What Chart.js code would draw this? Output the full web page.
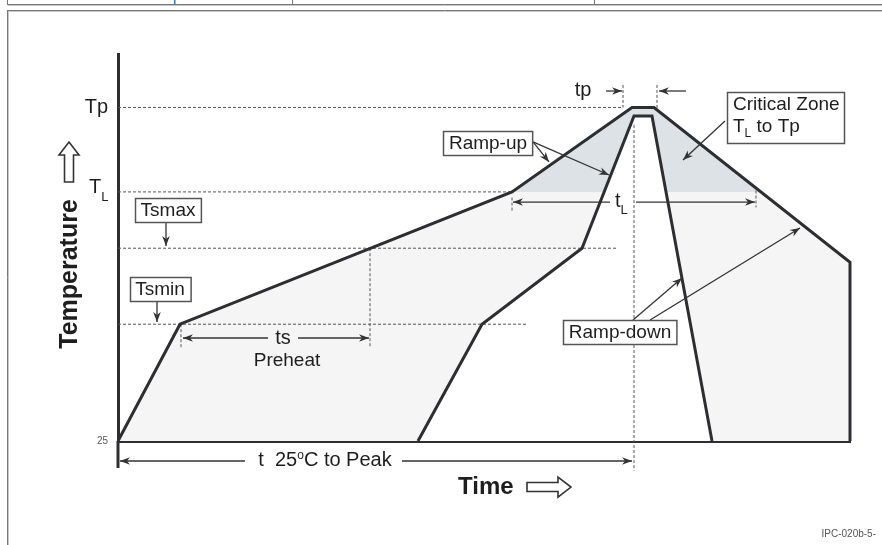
<!DOCTYPE html>
<html>
<head>
<meta charset="utf-8">
<script src="https://cdn.jsdelivr.net/npm/chart.js@4.4.1/dist/chart.umd.min.js"></script>
<style>
  body { margin: 0; background: #fff; }
</style>
</head>
<body>
<canvas id="profile-chart" width="882" height="545"></canvas>
<script>
// reflow profile, schematic units (time, temperature)
const TP = 262, TL = 202, TSMAX = 162, TSMIN = 108;

const outerTime = [0, 31, 197, 257, 268, 366, 366];
const outerTemp = [25, 108, 202, 262, 262, 152, 25];

const innerTime = [150, 182, 232, 258, 267, 297];
const innerTemp = [25, 108, 162, 256, 256, 25];

const tickValues = [25, TL, TP];
const tickLabels = ['25', '', 'Tp'];

// dotted guides
const levelTemps = [TP, TL, TSMAX, TSMIN];
const levelEnds = [252.5, 197, 250, 204.5];

const guideTimes = [31.5, 126, 197, 319, 258, 252.5, 269.5];
const guideTop = [108, 162, 198, 203, 249.5, 278, 278];
const guideBottom = [91, 91, 188, 191, 4, 262, 260];

Chart.defaults.font.family = "'Liberation Sans', Arial, sans-serif";
const ink = '#2c2e31';
const textInk = '#1e1e1e';
const FONT = "'Liberation Sans', Arial, sans-serif";

function pts(xs, ys) {
  return xs.map((x, i) => ({ x: x, y: ys[i] }));
}

const guideSets = [];
levelTemps.forEach((v, i) => {
  guideSets.push({ data: [{ x: 0, y: v }, { x: levelEnds[i], y: v }] });
});
guideTimes.forEach((t, i) => {
  guideSets.push({ data: [{ x: t, y: guideTop[i] }, { x: t, y: guideBottom[i] }] });
});
guideSets.forEach(d => Object.assign(d, {
  borderColor: '#555', borderWidth: 1, borderDash: [3, 2],
  pointRadius: 0, fill: false, clip: false, order: 5
}));

const noLine = 'rgba(0,0,0,0)';

// helpers for the annotations
function arrowHead(ctx, x1, y1, x2, y2) {
  const a = Math.atan2(y2 - y1, x2 - x1);
  ctx.save();
  ctx.translate(x2, y2);
  ctx.rotate(a);
  ctx.beginPath();
  ctx.moveTo(0, 0);
  ctx.lineTo(-10, -3.8);
  ctx.lineTo(-7, 0);
  ctx.lineTo(-10, 3.8);
  ctx.closePath();
  ctx.fill();
  ctx.restore();
}

function arrow(ctx, x1, y1, x2, y2) {
  ctx.beginPath();
  ctx.moveTo(x1, y1);
  ctx.lineTo(x2, y2);
  ctx.stroke();
  arrowHead(ctx, x1, y1, x2, y2);
}

function labelBox(ctx, text, cx, cy, size) {
  ctx.font = size + 'px ' + FONT;
  const w = ctx.measureText(text).width + 11, h = 24;
  const x = Math.round(cx - w / 2) + 0.5, y = Math.round(cy - h / 2) + 0.5;
  ctx.fillStyle = '#fff';
  ctx.fillRect(x, y, w, h);
  ctx.lineWidth = 1.5;
  ctx.strokeStyle = '#555';
  ctx.strokeRect(x, y, w, h);
  ctx.fillStyle = textInk;
  ctx.textAlign = 'center';
  ctx.textBaseline = 'middle';
  ctx.fillText(text, cx, cy + 1);
}

// runs of text with own size / vertical shift
function textRuns(ctx, runs, x, y, align) {
  let total = 0;
  runs.forEach(r => { ctx.font = r.font; r.w = ctx.measureText(r.text).width; total += r.w; });
  let cx = align === 'center' ? x - total / 2 : x;
  ctx.textAlign = 'left';
  ctx.textBaseline = 'middle';
  runs.forEach(r => {
    ctx.font = r.font;
    ctx.fillText(r.text, cx, y + (r.dy || 0));
    cx += r.w;
  });
}

function hollowArrow(ctx, x, y, len, angle) {
  const head = 13, hw = 10, sw = 4.5;
  ctx.save();
  ctx.translate(x, y);
  ctx.rotate(angle);
  ctx.beginPath();
  ctx.moveTo(0, -sw);
  ctx.lineTo(len - head, -sw);
  ctx.lineTo(len - head, -hw);
  ctx.lineTo(len, 0);
  ctx.lineTo(len - head, hw);
  ctx.lineTo(len - head, sw);
  ctx.lineTo(0, sw);
  ctx.closePath();
  ctx.fillStyle = '#fff';
  ctx.fill();
  ctx.lineWidth = 1.6;
  ctx.strokeStyle = '#333';
  ctx.stroke();
  ctx.restore();
}

const overlay = {
  id: 'overlay',
  beforeDraw(chart) {
    const ctx = chart.ctx;
    ctx.save();
    ctx.fillStyle = '#fff';
    ctx.fillRect(0, 0, chart.width, chart.height);
    // page frame around the figure
    ctx.strokeStyle = '#777';
    ctx.lineWidth = 1;
    ctx.beginPath();
    ctx.moveTo(7.5, 0); ctx.lineTo(7.5, 5);
    ctx.moveTo(292.5, 0); ctx.lineTo(292.5, 5);
    ctx.moveTo(594.5, 0); ctx.lineTo(594.5, 5);
    ctx.moveTo(7, 4.5); ctx.lineTo(chart.width, 4.5);
    ctx.moveTo(7, 10.5); ctx.lineTo(chart.width, 10.5);
    ctx.moveTo(7.5, 10); ctx.lineTo(7.5, chart.height);
    ctx.stroke();
    ctx.strokeStyle = '#c8c8c8';
    ctx.beginPath();
    ctx.moveTo(8, 5.5); ctx.lineTo(chart.width, 5.5);
    ctx.moveTo(9, 11.5); ctx.lineTo(chart.width, 11.5);
    ctx.moveTo(8.5, 11); ctx.lineTo(8.5, chart.height);
    ctx.stroke();
    ctx.fillStyle = '#3b73c4';
    ctx.fillRect(174, 0, 1.5, 4);
    ctx.restore();
  },
  afterDraw(chart) {
    const ctx = chart.ctx, area = chart.chartArea;
    const xs = chart.scales.x, ys = chart.scales.y;
    const X = v => xs.getPixelForValue(v);
    const Y = v => ys.getPixelForValue(v);
    ctx.save();

    // temperature axis continues below the time axis
    ctx.strokeStyle = ink;
    ctx.lineWidth = 3;
    ctx.beginPath();
    ctx.moveTo(area.left, area.bottom);
    ctx.lineTo(area.left, Y(5.8));
    ctx.stroke();

    // T_L tick label
    ctx.fillStyle = textInk;
    textRuns(ctx, [
      { text: 'T', font: '20px ' + FONT, dy: -4 },
      { text: 'L', font: '13px ' + FONT, dy: 6 }
    ], area.left - 29, Y(TL), 'left');

    ctx.strokeStyle = '#333';
    ctx.fillStyle = '#333';
    ctx.lineWidth = 1.3;

    // tp
    arrow(ctx, X(244), Y(273.7), X(252), Y(273.7));
    arrow(ctx, X(284), Y(273.7), X(270.5), Y(273.7));
    ctx.fillStyle = textInk;
    ctx.font = '20px ' + FONT;
    ctx.textAlign = 'center';
    ctx.textBaseline = 'middle';
    ctx.fillText('tp', X(232.5), Y(274.4));

    // Ramp-up
    ctx.fillStyle = '#333';
    ctx.lineWidth = 1.3;
    ctx.strokeStyle = '#333';
    arrow(ctx, X(207.5), Y(237.5), X(215.5), Y(223.3));
    arrow(ctx, X(207.5), Y(237.5), X(245.5), Y(214));
    labelBox(ctx, 'Ramp-up', X(185), Y(236.8), 19);

    // Critical zone
    ctx.fillStyle = '#333';
    ctx.strokeStyle = '#333';
    ctx.lineWidth = 1.3;
    arrow(ctx, X(303.5), Y(252.4), X(282.5), Y(224.7));
    const bx = Math.round(X(304.5)) + 0.5, by = Math.round(Y(273)) + 0.5;
    const bw = Math.round(X(363) - X(304.5)), bh = Math.round(Y(236.8) - Y(273));
    ctx.fillStyle = '#fff';
    ctx.fillRect(bx, by, bw, bh);
    ctx.strokeStyle = '#555';
    ctx.lineWidth = 1.5;
    ctx.strokeRect(bx, by, bw, bh);
    ctx.fillStyle = textInk;
    textRuns(ctx, [{ text: 'Critical Zone', font: '19px ' + FONT }], X(307.5), Y(263.8), 'left');
    textRuns(ctx, [
      { text: 'T', font: '19px ' + FONT },
      { text: 'L', font: '12px ' + FONT, dy: 7 },
      { text: ' to Tp', font: '19px ' + FONT }
    ], X(307.5), Y(248.1), 'left');

    // Ramp-down
    ctx.fillStyle = '#333';
    ctx.strokeStyle = '#333';
    ctx.lineWidth = 1.3;
    arrow(ctx, X(257.5), Y(111), X(282), Y(140.8));
    arrow(ctx, X(266), Y(111), X(341), Y(176.4));
    labelBox(ctx, 'Ramp-down', X(251), Y(102.5), 19);

    // Tsmax / Tsmin
    ctx.fillStyle = '#333';
    ctx.strokeStyle = '#333';
    ctx.lineWidth = 1.3;
    arrow(ctx, X(24), Y(179.9), X(24), Y(163.6));
    labelBox(ctx, 'Tsmax', X(25), Y(189.1), 19);
    ctx.fillStyle = '#333';
    ctx.strokeStyle = '#333';
    ctx.lineWidth = 1.3;
    arrow(ctx, X(19.5), Y(124.5), X(19.5), Y(109.6));
    labelBox(ctx, 'Tsmin', X(21), Y(133), 19);

    // ts preheat
    ctx.fillStyle = '#333';
    ctx.strokeStyle = '#333';
    ctx.lineWidth = 1.3;
    arrow(ctx, X(75), Y(98.2), X(32.5), Y(98.2));
    arrow(ctx, X(90), Y(98.2), X(125.5), Y(98.2));
    ctx.fillStyle = textInk;
    ctx.textAlign = 'center';
    ctx.textBaseline = 'middle';
    ctx.font = '20px ' + FONT;
    ctx.fillText('ts', X(82.5), Y(97.5));
    ctx.font = '19px ' + FONT;
    ctx.fillText('Preheat', X(84.5), Y(81.8));

    // t_L
    ctx.fillStyle = '#333';
    arrow(ctx, X(246), Y(194.8), X(197.5), Y(194.8));
    arrow(ctx, X(259), Y(194.8), X(318.5), Y(194.8));
    ctx.fillStyle = textInk;
    textRuns(ctx, [
      { text: 't', font: '20px ' + FONT, dy: 0 },
      { text: 'L', font: '13px ' + FONT, dy: 9 }
    ], X(248.5), Y(195.5), 'left');

    // t 25C to peak
    ctx.fillStyle = '#333';
    arrow(ctx, X(63.5), Y(10.8), X(1), Y(10.8));
    arrow(ctx, X(142), Y(10.8), X(257), Y(10.8));
    ctx.fillStyle = textInk;
    textRuns(ctx, [
      { text: 't  25', font: '20px ' + FONT },
      { text: 'o', font: '12px ' + FONT, dy: -5 },
      { text: 'C to Peak', font: '20px ' + FONT }
    ], X(103.5), Y(10.8), 'center');

    // axis titles
    ctx.fillStyle = textInk;
    ctx.font = 'bold 24px ' + FONT;
    ctx.textAlign = 'left';
    ctx.textBaseline = 'middle';
    ctx.fillText('Time', X(170), Y(-7.7));
    hollowArrow(ctx, X(204.5), Y(-7.7), X(226.5) - X(204.5), 0);

    ctx.save();
    ctx.translate(X(-24), Y(143.7));
    ctx.rotate(-Math.PI / 2);
    ctx.fillStyle = textInk;
    ctx.font = 'bold 25px ' + FONT;
    ctx.textAlign = 'center';
    ctx.textBaseline = 'middle';
    ctx.fillText('Temperature', 0, 0);
    ctx.restore();
    hollowArrow(ctx, X(-24.5), Y(209), Y(209) - Y(237.5), -Math.PI / 2);

    ctx.fillStyle = '#555';
    ctx.font = '10px ' + FONT;
    ctx.textAlign = 'right';
    ctx.textBaseline = 'middle';
    ctx.fillText('IPC-020b-5-', chart.width - 6, chart.height - 11);
    ctx.restore();
  }
};

const outerPts = pts(outerTime, outerTemp);
const innerPts = pts(innerTime, innerTemp);

new Chart(document.getElementById('profile-chart'), {
  type: 'line',
  data: {
    datasets: [
      { data: outerPts, fill: 'origin', backgroundColor: '#f5f5f5', borderColor: noLine, borderWidth: 0, pointRadius: 0, order: 10 },
      { data: outerPts, fill: { target: { value: TL }, above: '#dde2e6', below: noLine }, backgroundColor: '#dde2e6', borderColor: noLine, borderWidth: 0, pointRadius: 0, order: 9 },
      { data: innerPts, fill: 'origin', backgroundColor: '#ffffff', borderColor: noLine, borderWidth: 0, pointRadius: 0, order: 8 },
      ...guideSets,
      { data: outerPts, fill: false, borderColor: ink, borderWidth: 3, pointRadius: 0, clip: 4, order: 1 },
      { data: innerPts, fill: false, borderColor: ink, borderWidth: 3, pointRadius: 0, clip: 4, order: 1 }
    ]
  },
  options: {
    responsive: false,
    devicePixelRatio: 1,
    animation: false,
    events: [],
    layout: { padding: { left: 0, top: 54, right: 32, bottom: 0 } },
    plugins: { legend: { display: false }, tooltip: { enabled: false } },
    scales: {
      x: {
        type: 'linear', min: 0, max: 366,
        grid: { display: false, drawTicks: false },
        border: { display: true, width: 3, color: ink },
        ticks: { display: false },
        afterFit: (s) => { s.height = 104; }
      },
      y: {
        type: 'linear', min: 25, max: 300,
        afterBuildTicks: (s) => { s.ticks = tickValues.map(v => ({ value: v })); },
        grid: { display: false, drawTicks: false },
        border: { display: true, width: 3, color: ink },
        ticks: {
          padding: 10,
          autoSkip: false,
          color: (c) => c.index === 0 ? '#555' : textInk,
          font: (c) => c.index === 0 ? { size: 10 } : { size: 20 },
          callback: (value, index) => tickLabels[index]
        },
        afterFit: (s) => { s.width = 118; }
      }
    }
  },
  plugins: [overlay]
});
</script>
</body>
</html>
